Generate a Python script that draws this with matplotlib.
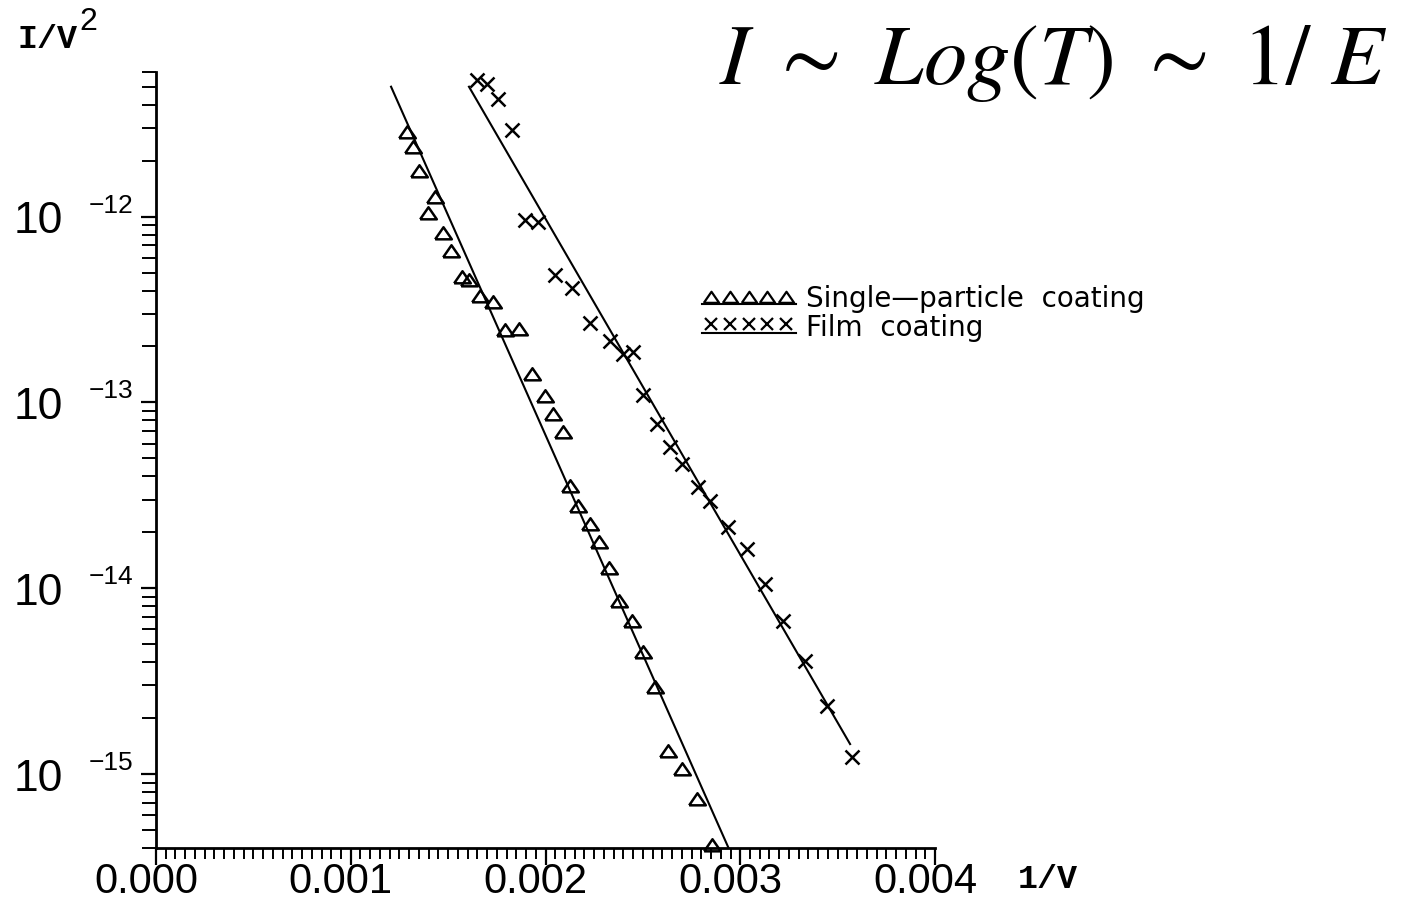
import matplotlib.pyplot as plt
from matplotlib.lines import Line2D
from matplotlib.ticker import MultipleLocator, LogLocator, NullFormatter, FixedLocator

# data (1/V, I/V^2)
single_x = [0.001289, 0.001320, 0.001350, 0.001433, 0.001397, 0.001474, 0.001515, 0.001571,
            0.001607, 0.001664, 0.001730, 0.001792, 0.001864, 0.001931, 0.001998, 0.002039,
            0.002090, 0.002126, 0.002167, 0.002229, 0.002275, 0.002326, 0.002378, 0.002444,
            0.002501, 0.002562, 0.002629, 0.002701, 0.002778, 0.002855]
single_y = [2.86e-12, 2.38e-12, 1.77e-12, 1.28e-12, 1.04e-12, 8.20e-13, 6.56e-13, 4.75e-13,
            4.58e-13, 3.72e-13, 3.49e-13, 2.44e-13, 2.47e-13, 1.42e-13, 1.08e-13, 8.61e-14,
            6.90e-14, 3.53e-14, 2.76e-14, 2.21e-14, 1.77e-14, 1.28e-14, 8.51e-15, 6.65e-15,
            4.53e-15, 2.94e-15, 1.33e-15, 1.06e-15, 7.35e-16, 4.17e-16]

film_x = [0.001648, 0.001700, 0.001756, 0.001828, 0.001895, 0.001962, 0.002049, 0.002136,
          0.002229, 0.002331, 0.002398, 0.002449, 0.002501, 0.002573, 0.002639, 0.002701,
          0.002783, 0.002845, 0.002937, 0.003035, 0.003127, 0.003220, 0.003333, 0.003446,
          0.003574]
film_y = [5.46e-12, 5.19e-12, 4.31e-12, 2.94e-12, 9.64e-13, 9.40e-13, 4.82e-13, 4.15e-13,
          2.69e-13, 2.13e-13, 1.83e-13, 1.86e-13, 1.10e-13, 7.62e-14, 5.73e-14, 4.65e-14,
          3.49e-14, 2.94e-14, 2.13e-14, 1.62e-14, 1.05e-14, 6.65e-15, 4.06e-15, 2.32e-15,
          1.23e-15]

# straight-line fits drawn on the original
single_fit_x = [0.001207, 0.002947]
single_fit_y = [5.0e-12, 3.85e-16]
film_fit_x = [0.001607, 0.003564]
film_fit_y = [5.0e-12, 1.45e-15]

x_ticks = [0.000, 0.001, 0.002, 0.003, 0.004]
x_tick_labels = ['0.000', '0.001', '0.002', '0.003', '0.004']
y_ticks = [1e-12, 1e-13, 1e-14, 1e-15]
y_tick_exps = ['\u221212', '\u221213', '\u221214', '\u221215']

W, H = 1407, 905
plt.rcParams['mathtext.fontset'] = 'stix'
LBL = 'Liberation Sans'


def fx(px):
    return px / W


def fy(py):
    return 1 - py / H


fig = plt.figure(figsize=(W / 100, H / 100), dpi=100)
ax = fig.add_axes([fx(156), fy(848), (935 - 156) / W, (848 - 72) / H])

tri = [(-1, -0.7), (1, -0.7), (0, 0.75), (-1, -0.7)]

ax.plot(single_fit_x, single_fit_y, color='black', lw=1.5)
ax.plot(film_fit_x, film_fit_y, color='black', lw=1.5)
ax.plot(single_x, single_y, ls='none', marker=tri, ms=12, mfc='none', mec='black',
        mew=1.8, clip_on=False)
ax.plot(film_x, film_y, ls='none', marker='x', ms=10, mec='black', mew=1.8)

ax.set_yscale('log')
ax.set_xlim(0, 0.004)
ax.set_ylim(4e-16, 6e-12)

for s in ['top', 'right']:
    ax.spines[s].set_visible(False)
for s in ['left', 'bottom']:
    ax.spines[s].set_linewidth(2)

ax.xaxis.set_major_locator(FixedLocator(x_ticks))
ax.xaxis.set_minor_locator(MultipleLocator(0.00005))
ax.yaxis.set_major_locator(FixedLocator(y_ticks))
ax.yaxis.set_minor_locator(LogLocator(base=10, subs=range(2, 10)))
ax.xaxis.set_major_formatter(NullFormatter())
ax.yaxis.set_major_formatter(NullFormatter())
ax.yaxis.set_minor_formatter(NullFormatter())
ax.tick_params(axis='x', which='major', direction='out', length=12, width=1.6)
ax.tick_params(axis='x', which='minor', direction='out', length=8, width=1.4)
ax.tick_params(axis='y', which='major', direction='out', length=11, width=1.6)
ax.tick_params(axis='y', which='minor', direction='out', length=10, width=1.4)

# tick labels, drawn by hand to get the "10  -12" look
for v, e in zip(y_ticks, y_tick_exps):
    ax.annotate('10', xy=(0, v), xycoords=('axes fraction', 'data'), xytext=(-93, -5),
                textcoords='offset pixels', ha='right', va='center', fontsize=32,
                family=LBL)
    ax.annotate(e, xy=(0, v), xycoords=('axes fraction', 'data'), xytext=(-67, 11),
                textcoords='offset pixels', ha='left', va='center', fontsize=19,
                family=LBL)

for v, t in zip(x_ticks, x_tick_labels):
    ax.annotate(t, xy=(v, 0), xycoords=('data', 'axes fraction'), xytext=(-10, -34),
                textcoords='offset pixels', ha='center', va='center', fontsize=30,
                family=LBL)

# axis titles
fig.text(fx(1018), fy(879), '1/V', ha='left', va='center', fontsize=24,
         family='Liberation Mono', weight='bold')
fig.text(fx(17), fy(40), 'I/V', ha='left', va='center', fontsize=24,
         family='Liberation Mono', weight='bold')
fig.text(fx(79), fy(22), '2', ha='left', va='center', fontsize=23, family=LBL)

# formula at top right
fig.text(fx(1387), fy(84), r'$I\ \sim\ Log(T)\ \sim\ 1/\ E$', ha='right', va='baseline',
         fontsize=62.5)

# legend, plotter style
leg_x = [711, 730, 749, 767, 786]
fig.add_artist(Line2D([fx(p) for p in leg_x], [fy(297)] * 5, ls='none', marker=tri, ms=11,
                      mfc='none', mec='black', mew=1.6, transform=fig.transFigure))
fig.add_artist(Line2D([fx(702), fx(796)], [fy(304), fy(304)], color='black', lw=1.5,
                      transform=fig.transFigure))
fig.add_artist(Line2D([fx(p) for p in leg_x], [fy(324)] * 5, ls='none', marker='x', ms=9,
                      mec='black', mew=1.6, transform=fig.transFigure))
fig.add_artist(Line2D([fx(702), fx(796)], [fy(333), fy(333)], color='black', lw=1.5,
                      transform=fig.transFigure))
fig.text(fx(806), fy(307), 'Single\u2014particle  coating', ha='left', va='baseline',
         fontsize=20, family='DejaVu Sans')
fig.text(fx(806), fy(336), 'Film  coating', ha='left', va='baseline', fontsize=20,
         family='DejaVu Sans')

fig.savefig('out.png', dpi=100)
